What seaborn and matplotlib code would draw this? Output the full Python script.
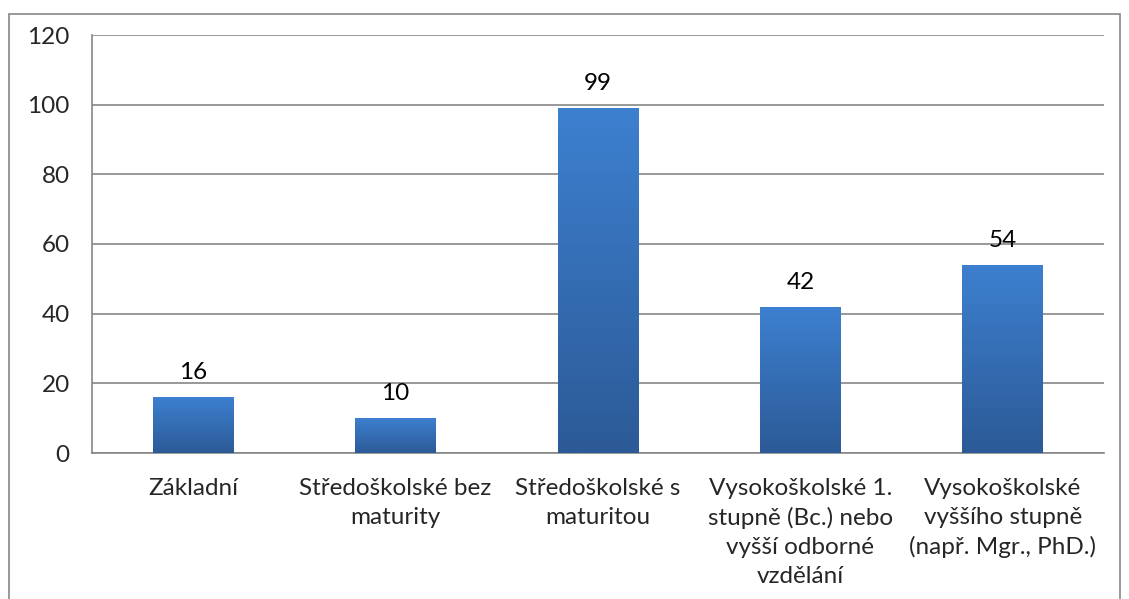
import numpy as np
import pandas as pd
import matplotlib
matplotlib.use("Agg")
import matplotlib.pyplot as plt
import seaborn as sns
from matplotlib.colors import LinearSegmentedColormap
from matplotlib.patches import Rectangle

# data
categories = [
    "Základní",
    "Středoškolské bez\nmaturity",
    "Středoškolské s\nmaturitou",
    "Vysokoškolské 1.\nstupně (Bc.) nebo\nvyšší odborné\nvzdělání",
    "Vysokoškolské\nvyššího stupně\n(např. Mgr., PhD.)",
]
counts = [16, 10, 99, 42, 54]
y_ticks = [0, 20, 40, 60, 80, 100, 120]

df = pd.DataFrame({"kategorie": categories, "pocet": counts})

sns.set_style("white")
plt.rcParams["font.family"] = ["Lato", "DejaVu Sans"]
fs = 17.5

grid_col = "#868686"

fig = plt.figure(figsize=(11.29, 5.99), dpi=100)
ax = fig.add_axes([92 / 1129, 1 - 453 / 599, (1104 - 92) / 1129, (453 - 35) / 599])

sns.barplot(data=df, x="kategorie", y="pocet", color="#3a78c6", width=0.4,
            saturation=1, ax=ax, zorder=3)

# gradient fill on each bar
cmap = LinearSegmentedColormap.from_list("grad", ["#2c5a96", "#3d80d0"])
grad = np.linspace(0, 1, 256).reshape(-1, 1)
for bar in list(ax.patches):
    x0, y0 = bar.get_x(), bar.get_y()
    w, h = bar.get_width(), bar.get_height()
    bar.set_facecolor("none")
    bar.set_edgecolor("none")
    im = ax.imshow(grad, cmap=cmap, aspect="auto", origin="lower",
                   extent=[x0, x0 + w, y0, y0 + h], zorder=3)
    clip = Rectangle((x0, y0), w, h, transform=ax.transData)
    im.set_clip_path(clip)

for i, v in enumerate(counts):
    ax.annotate(str(v), (i, v), xytext=(0, 10), textcoords="offset points",
                ha="center", va="bottom", fontsize=fs, color="black")

ax.set_xlim(-0.5, len(categories) - 0.5)
ax.set_ylim(0, 120)
ax.set_yticks(y_ticks)
ax.set_yticklabels([str(t) for t in y_ticks])
ax.set_xlabel("")
ax.set_ylabel("")

# horizontal gridlines
ax.yaxis.grid(True, color=grid_col, linewidth=1.2, zorder=0)
ax.xaxis.grid(False)
ax.set_axisbelow(True)

for side in ["top", "right"]:
    ax.spines[side].set_visible(False)
for side in ["left", "bottom"]:
    ax.spines[side].set_color(grid_col)
    ax.spines[side].set_linewidth(1.2)

# x ticks at category boundaries, labels at centres
ax.set_xticks(np.arange(-0.5, len(categories)), minor=False)
ax.set_xticklabels([""] * (len(categories) + 1))
ax.set_xticks(np.arange(len(categories)), minor=True)
ax.set_xticklabels(categories, minor=True, linespacing=1.45)
ax.tick_params(axis="x", which="major", direction="out", length=6,
               color=grid_col, width=1.2)
ax.tick_params(axis="x", which="minor", length=0, pad=18, labelsize=fs)
ax.tick_params(axis="y", direction="out", length=8, color=grid_col,
               width=1.2, pad=8, labelsize=fs)

# figure border
fig.patches.append(Rectangle((9 / 1129, -0.01), (1120 - 9) / 1129, 1 - 14 / 599 + 0.01,
                             transform=fig.transFigure, fill=False,
                             edgecolor=grid_col, linewidth=1.2))

fig.savefig("out.png", dpi=100)
